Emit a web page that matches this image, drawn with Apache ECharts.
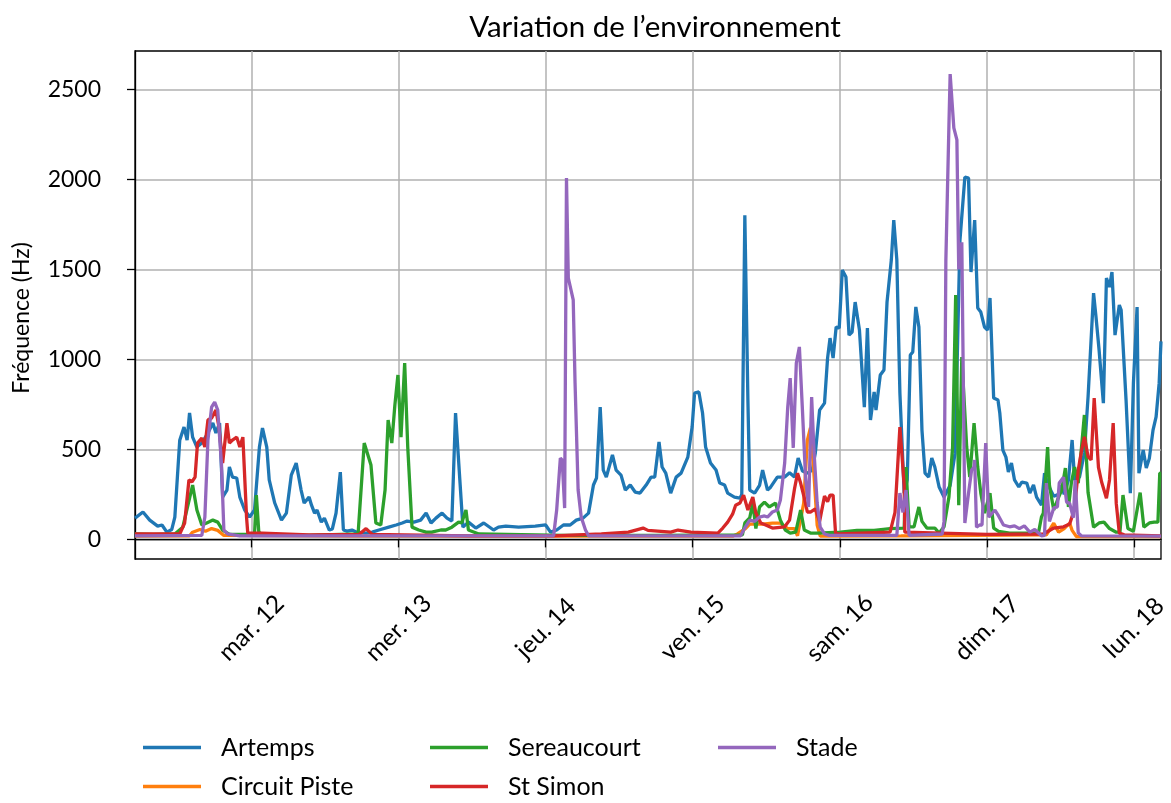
<!DOCTYPE html>
<html><head><meta charset="utf-8">
<script src="https://cdn.jsdelivr.net/npm/echarts@6/dist/echarts.min.js"></script>
<style>html,body{margin:0;padding:0;background:#fff}#c{width:1171px;height:803px}</style>
</head><body><div id="c"></div>
<script>
// x values: hours since 11 March 00:00 ; y values: Hz
const seriesNames = ['Artemps', 'Circuit Piste', 'Sereaucourt', 'St Simon', 'Stade'];
const seriesColors = ['#1f77b4', '#ff7f0e', '#2ca02c', '#d62728', '#9467bd'];
const dayTicks = [24, 48, 72, 96, 120, 144, 168];
const dayLabels = ['mar. 12', 'mer. 13', 'jeu. 14', 'ven. 15', 'sam. 16', 'dim. 17', 'lun. 18'];
const yTicks = [0, 500, 1000, 1500, 2000, 2500];
const xRange = [5.0, 172.4];
const yRange = [-109, 2713];

const artemps = [[5.0,118],[6.3,152],[7.4,107],[8.7,74],[9.4,80],[10.2,40],[11.0,55],[11.5,124],[12.3,551],[13.0,624],[13.5,551],[13.9,702],[14.4,568],[15.1,513],[15.9,535],[16.9,591],[17.7,646],[18.2,591],[18.8,646],[19.3,235],[20.0,274],[20.4,402],[20.9,346],[21.6,341],[22.1,235],[22.9,163],[23.7,124],[24.5,163],[25.3,513],[25.8,618],[26.5,513],[26.9,330],[27.8,202],[28.9,107],[29.7,146],[30.5,357],[31.3,424],[32.1,274],[32.6,202],[33.4,235],[33.8,190],[34.3,146],[34.7,163],[35.4,96],[35.9,118],[36.7,52],[37.2,58],[37.8,146],[38.5,374],[39.0,52],[39.6,46],[40.4,52],[41.2,40],[42.7,35],[43.7,40],[44.8,52],[46.4,68],[47.6,80],[48.6,91],[49.4,102],[50.5,96],[51.6,107],[52.5,146],[53.3,91],[54.1,118],[55.1,146],[55.9,118],[56.7,102],[57.3,702],[58.0,330],[58.5,68],[59.4,96],[60.6,63],[61.9,91],[63.5,52],[64.3,68],[65.5,74],[67.6,68],[70.3,74],[72.0,80],[72.8,40],[73.8,52],[74.9,80],[76.0,80],[77.0,107],[78.1,118],[79.0,146],[79.8,302],[80.3,341],[80.9,735],[81.4,385],[81.9,346],[82.9,469],[83.5,385],[84.3,357],[85.0,274],[85.8,302],[86.6,263],[87.4,257],[88.4,302],[89.2,346],[89.8,346],[90.5,541],[91.0,402],[91.6,368],[92.4,257],[93.3,346],[94.1,368],[95.2,457],[95.9,624],[96.3,813],[97.0,819],[97.6,702],[98.1,513],[98.9,424],[99.8,385],[100.4,313],[101.2,302],[101.7,257],[102.8,235],[103.7,229],[104.0,250],[104.5,1801],[105.0,774],[105.3,274],[106.1,257],[106.9,300],[107.4,385],[108.2,274],[108.7,290],[109.8,346],[111.0,346],[111.8,370],[112.6,346],[113.2,452],[113.9,380],[114.7,368],[115.5,385],[116.0,480],[116.7,718],[117.5,757],[118.0,1007],[118.4,1118],[118.9,1007],[119.4,1180],[119.9,1174],[120.4,1496],[121.0,1457],[121.5,1135],[122.0,1152],[122.5,1318],[123.2,1163],[124.0,735],[124.5,1174],[125.0,663],[125.6,819],[125.9,718],[126.6,913],[127.2,941],[127.7,1318],[128.4,1552],[128.8,1774],[129.3,1552],[129.8,813],[130.5,257],[131.0,330],[131.5,1024],[131.9,1041],[132.4,1291],[132.9,1180],[133.4,607],[133.9,368],[134.5,346],[135.0,452],[135.5,402],[136.2,291],[137.0,235],[138.0,300],[138.8,479],[139.6,1663],[140.4,2013],[141.0,2007],[141.4,1485],[142.0,1774],[142.5,1285],[143.0,1263],[143.6,1180],[144.1,1163],[144.5,1341],[145.1,785],[145.8,774],[146.1,702],[146.6,496],[147.1,457],[147.5,374],[148.0,424],[148.5,330],[149.2,291],[149.7,318],[150.5,313],[151.0,257],[151.6,302],[152.1,235],[152.9,190],[153.4,368],[154.0,300],[154.9,240],[155.7,250],[156.2,300],[156.6,250],[157.3,330],[157.9,552],[158.3,330],[159.1,346],[159.9,480],[160.5,791],[161.4,1368],[161.8,1235],[162.3,1052],[163.0,757],[163.5,1452],[164.0,1402],[164.4,1485],[164.9,1135],[165.6,1302],[165.9,1274],[166.7,774],[167.4,257],[167.9,868],[168.5,1291],[168.8,368],[169.5,496],[170.0,396],[170.5,450],[171.1,607],[171.6,680],[172.1,868],[172.4,1100]];

const circuitPiste = [[5.0,18],[13.9,20],[14.4,40],[15.6,55],[16.5,45],[17.5,60],[18.5,50],[19.5,22],[40.0,18],[70.0,19],[102.5,18],[103.3,30],[104.6,60],[105.3,85],[107.4,85],[109.0,90],[110.3,90],[111.5,60],[112.6,60],[113.1,20],[114.1,200],[114.7,550],[115.2,620],[115.8,350],[116.3,80],[116.8,18],[130.0,20],[153.7,25],[154.9,90],[155.7,40],[156.6,60],[157.5,90],[157.9,50],[158.6,15],[172.4,15]];

const sereaucourt = [[5.0,30],[8.0,28],[11.5,30],[12.8,68],[14.4,302],[15.1,163],[15.9,80],[16.7,91],[17.7,107],[18.5,96],[19.3,52],[20.4,28],[24.5,28],[24.8,246],[25.2,40],[25.8,25],[33.0,22],[41.4,30],[42.4,535],[42.9,480],[43.5,413],[44.3,91],[45.1,80],[45.8,274],[46.3,663],[46.9,535],[47.4,746],[47.9,913],[48.4,568],[49.0,980],[49.5,513],[50.2,68],[51.3,52],[52.5,40],[53.4,40],[54.9,52],[55.7,52],[56.7,68],[57.8,96],[58.3,91],[59.0,163],[59.4,52],[61.1,30],[75.0,22],[90.0,22],[104.1,25],[104.5,91],[105.3,120],[105.8,202],[106.3,60],[106.9,180],[107.7,207],[108.5,180],[109.5,202],[110.3,107],[111.1,52],[111.9,35],[112.8,40],[113.6,163],[114.2,52],[115.2,35],[116.3,35],[120.1,40],[122.8,50],[125.6,50],[128.2,60],[130.5,63],[130.8,402],[131.3,70],[132.1,70],[132.9,180],[133.4,100],[134.2,63],[135.5,63],[136.2,35],[137.0,70],[137.8,235],[138.4,513],[138.9,1357],[139.4,190],[139.9,1013],[140.7,513],[141.2,346],[141.9,646],[142.5,402],[143.0,257],[143.6,146],[144.5,257],[145.1,63],[145.9,45],[147.7,35],[150.5,35],[152.4,35],[152.9,124],[153.2,146],[153.9,513],[154.2,300],[154.9,163],[155.7,235],[156.2,274],[156.8,396],[157.3,180],[157.8,320],[158.3,402],[158.9,313],[159.4,500],[159.9,691],[160.5,260],[161.4,68],[162.3,91],[163.1,96],[164.0,60],[165.1,40],[165.7,40],[166.2,246],[167.0,60],[167.9,45],[168.3,124],[169.0,260],[169.6,68],[170.5,91],[171.3,96],[171.9,96],[172.2,368],[172.4,368]];

const stSimon = [[5.0,30],[12.3,30],[13.1,91],[13.8,330],[14.3,320],[14.8,346],[15.2,535],[15.9,563],[16.4,513],[16.9,663],[17.5,674],[18.2,718],[18.7,624],[19.3,424],[20.0,646],[20.4,535],[20.9,552],[21.6,568],[22.1,513],[22.6,568],[23.2,124],[23.4,35],[25.8,35],[33.4,25],[41.6,28],[42.7,60],[43.7,28],[59.4,20],[73.3,20],[81.1,30],[85.5,40],[87.9,63],[88.7,50],[92.4,40],[93.6,52],[95.7,40],[100.1,35],[100.9,63],[101.7,96],[102.5,140],[103.0,190],[103.7,202],[104.3,246],[105.0,163],[105.8,235],[106.3,146],[107.1,91],[107.9,80],[109.0,63],[111.0,70],[111.8,107],[112.6,280],[113.1,368],[113.6,313],[114.2,230],[114.7,152],[115.2,152],[116.0,170],[116.7,100],[117.5,240],[118.0,210],[118.4,246],[118.9,246],[119.3,35],[119.9,30],[128.2,40],[129.0,150],[129.8,624],[130.5,300],[130.6,40],[144.0,28],[153.2,30],[154.9,63],[156.5,70],[157.5,85],[158.3,170],[158.9,385],[159.4,485],[159.9,570],[160.5,460],[161.0,441],[161.5,785],[162.2,400],[162.7,320],[163.5,229],[164.0,330],[164.6,646],[165.1,200],[165.6,35],[166.4,25],[172.4,20]];

const stade = [[5.0,20],[15.9,22],[16.4,124],[16.9,552],[17.5,735],[18.0,763],[18.5,718],[19.1,424],[19.5,52],[20.1,30],[22.1,20],[50.0,19],[73.3,20],[73.8,163],[74.4,452],[74.7,440],[75.1,174],[75.4,2007],[75.7,1452],[76.5,1330],[76.8,868],[77.3,274],[77.8,124],[78.5,52],[79.0,20],[103.8,20],[104.6,70],[105.3,107],[106.1,100],[106.9,124],[107.7,130],[108.2,124],[109.0,152],[109.8,163],[110.3,218],[111.0,424],[111.5,735],[111.9,896],[112.4,508],[112.9,980],[113.4,1069],[113.9,718],[114.4,346],[114.9,180],[115.4,791],[115.8,480],[116.3,202],[116.8,68],[117.5,30],[118.3,22],[129.3,22],[129.8,257],[130.3,150],[130.8,274],[131.3,22],[136.7,30],[137.0,100],[137.3,1550],[137.8,2300],[138.0,2585],[138.6,2286],[139.1,2219],[139.4,1500],[139.9,1650],[140.4,91],[141.0,257],[141.5,385],[141.9,402],[142.0,441],[142.3,68],[142.8,80],[143.2,80],[143.8,535],[144.3,124],[145.3,163],[145.9,130],[146.7,80],[147.7,70],[148.5,75],[149.3,60],[150.1,75],[151.0,40],[151.8,55],[152.9,20],[153.4,22],[153.7,313],[154.2,100],[154.9,175],[155.5,180],[155.8,313],[156.5,346],[157.0,207],[157.5,200],[158.1,120],[158.4,330],[158.9,35],[159.4,20],[172.4,18]];

const allData = [artemps, circuitPiste, sereaucourt, stSimon, stade];
const FONT = 'Lato';

const chart = echarts.init(document.getElementById('c'), null, { renderer: 'canvas' });
const legendCommon = {
  orient: 'vertical', icon: 'rect', itemWidth: 58, itemHeight: 3.5, itemGap: 14, top: 735,
  padding: 0, height: 68,
  textStyle: { fontFamily: FONT, fontSize: 25, color: '#000', lineHeight: 25, padding: [0, 0, 0, 15] }
};
chart.setOption({
  animation: false,
  backgroundColor: '#fff',
  color: seriesColors,
  title: {
    text: 'Variation de l\u2019environnement', left: 650, top: 7, textAlign: 'center',
    textStyle: { fontFamily: FONT, fontSize: 29.5, fontWeight: 'normal', color: '#000' }
  },
  legend: [
    Object.assign({}, legendCommon, { left: 143, data: [seriesNames[0], seriesNames[1]] }),
    Object.assign({}, legendCommon, { left: 430, data: [seriesNames[2], seriesNames[3]] }),
    Object.assign({}, legendCommon, { left: 718, data: [seriesNames[4]] })
  ],
  grid: { left: 135, top: 51, width: 1030, height: 508, show: true, borderColor: '#000', borderWidth: 1.3, containLabel: false },
  xAxis: {
    type: 'value', min: xRange[0], max: xRange[1],
    axisLine: { show: true, lineStyle: { color: '#000', width: 1.3 } },
    axisTick: { show: true, length: 8, lineStyle: { color: '#000', width: 1.3 }, customValues: dayTicks },
    axisLabel: {
      customValues: dayTicks, rotate: 45, align: 'center', verticalAlign: 'middle', margin: 69,
      fontFamily: FONT, fontSize: 24.5, color: '#000',
      formatter: v => { const i = dayTicks.indexOf(Math.round(v)); return i >= 0 ? dayLabels[i] : ''; }
    },
    splitLine: { show: true, lineStyle: { color: '#b0b0b0', width: 1.5 } }
  },
  yAxis: {
    type: 'value', min: yRange[0], max: yRange[1],
    name: 'Fréquence (Hz)', nameLocation: 'middle', nameGap: 102,
    nameTextStyle: { fontFamily: FONT, fontSize: 23, color: '#000', padding: [0, 26, 0, 0] },
    axisLine: { show: true, lineStyle: { color: '#000', width: 1.3 } },
    axisTick: { show: true, length: 8, lineStyle: { color: '#000', width: 1.3 }, customValues: yTicks },
    axisLabel: {
      customValues: yTicks, margin: 34, fontFamily: FONT, fontSize: 23, color: '#000',
      formatter: v => (yTicks.indexOf(v) >= 0 ? String(v) : '')
    },
    splitLine: { show: true, lineStyle: { color: '#b0b0b0', width: 1.5 } }
  },
  series: seriesNames.map((n, i) => ({
    name: n, type: 'line', data: allData[i], symbol: 'none', showSymbol: false,
    lineStyle: { width: 3.3, color: seriesColors[i] }, itemStyle: { color: seriesColors[i] },
    z: 2 + i
  }))
});
</script></body></html>
